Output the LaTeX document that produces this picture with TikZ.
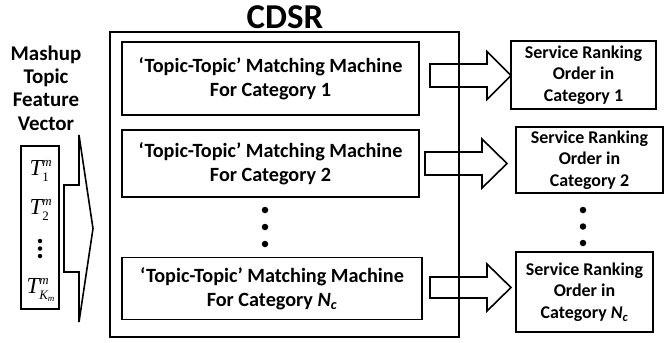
\documentclass[tikz,border=0pt]{standalone}
\usepackage{fontspec}
\setmainfont{Carlito}
\newfontfamily\tnr{Liberation Serif}
\newcommand\blockarr[6]{%
  \draw[arrowline] (#1,{#4-#5}) -- (#2,{#4-#5}) -- (#2,{#4-#6}) -- (#3,#4)
    -- (#2,{#4+#6}) -- (#2,{#4+#5}) -- (#1,{#4+#5}) -- cycle;}
\newcommand\tvec[1]{{\tnr\itshape T}$_{\mbox{\tnr\fontsize{13}{13}\selectfont #1}}^{\mbox{\tnr\itshape\fontsize{13}{13}\selectfont m}}$}
\begin{document}
\begin{tikzpicture}[x=1bp,y=-1bp,
  box/.style={draw, line width=1.8bp, inner sep=0pt, align=center},
  mbox/.style={box, font=\bfseries\fontsize{20.3}{24}\selectfont},
  sbox/.style={box, font=\bfseries\fontsize{18}{21.8}\selectfont},
  arrowline/.style={draw, line width=1.6bp, line join=miter},
  dotc/.style={circle, fill, inner sep=0pt, minimum size=6.5bp},
  sdot/.style={circle, fill, inner sep=0pt, minimum size=4.5bp}]
\useasboundingbox (0,0) rectangle (669,342);
% title and outer box
\node[font=\bfseries\fontsize{35}{35}\selectfont] (title) at (285,17) {CDSR};
\node[box, minimum width=349bp, minimum height=305bp] (cdsr) at (284.5,184.5) {};
% matching machines
\node[mbox, minimum width=297bp, minimum height=73bp] (m1) at (270.5,78.5)
  {‘Topic-Topic’ Matching Machine\\For Category 1};
\node[mbox, minimum width=297bp, minimum height=67bp] (m2) at (270.5,163.5)
  {‘Topic-Topic’ Matching Machine\\For Category 2};
\node[mbox, minimum width=300bp, minimum height=62bp] (mn) at (272,288.5)
  {‘Topic-Topic’ Matching Machine\\For Category {\itshape N\textsubscript{c}}};
\node[dotc] (md1) at (265,210) {};
\node[dotc] (md2) at (265,227) {};
\node[dotc] (md3) at (265,244) {};
% service ranking boxes
\node[sbox, minimum width=145bp, minimum height=68bp] (s1) at (583.5,75)
  {Service Ranking\\Order in\\Category 1};
\node[sbox, minimum width=147bp, minimum height=66bp] (s2) at (589.5,160)
  {Service Ranking\\Order in\\Category 2};
\node[sbox, minimum width=137bp, minimum height=80bp] (sn) at (584.5,292)
  {Service Ranking\\Order in\\Category {\itshape N\textsubscript{c}}};
\node[dotc] (sd1) at (583,210) {};
\node[dotc] (sd2) at (583,226.5) {};
\node[dotc] (sd3) at (583,243) {};
% block arrows
\blockarr{430}{487}{511}{75.5}{11.5}{24}
\blockarr{425}{482}{507}{163.5}{11.5}{24.5}
\blockarr{430}{487}{511}{287.5}{10.5}{23.5}
% left side
\node[align=center, font=\bfseries\fontsize{21}{23.4}\selectfont] (mlabel) at (46,88)
  {Mashup\\Topic\\Feature\\Vector};
\node[box, minimum width=38bp, minimum height=163bp] (vec) at (40,227.5) {};
\node[font=\fontsize{23}{23}\selectfont] (t1) at (41,171) {\tvec{1}};
\node[font=\fontsize{23}{23}\selectfont] (t2) at (41,210) {\tvec{2}};
\node[sdot] (vd1) at (40,241) {};
\node[sdot] (vd2) at (40,248.5) {};
\node[sdot] (vd3) at (40,256) {};
\node[font=\fontsize{23}{23}\selectfont] (tk) at (41,290) {{\tnr\itshape T}$_{\mbox{\tnr\itshape\fontsize{13}{13}\selectfont K$_{\mbox{\tnr\itshape\fontsize{9}{9}\selectfont m}}$}}^{\mbox{\tnr\itshape\fontsize{13}{13}\selectfont m}}$};
\blockarr{64}{79}{93}{228.5}{43.5}{93.5}
\end{tikzpicture}
\end{document}
